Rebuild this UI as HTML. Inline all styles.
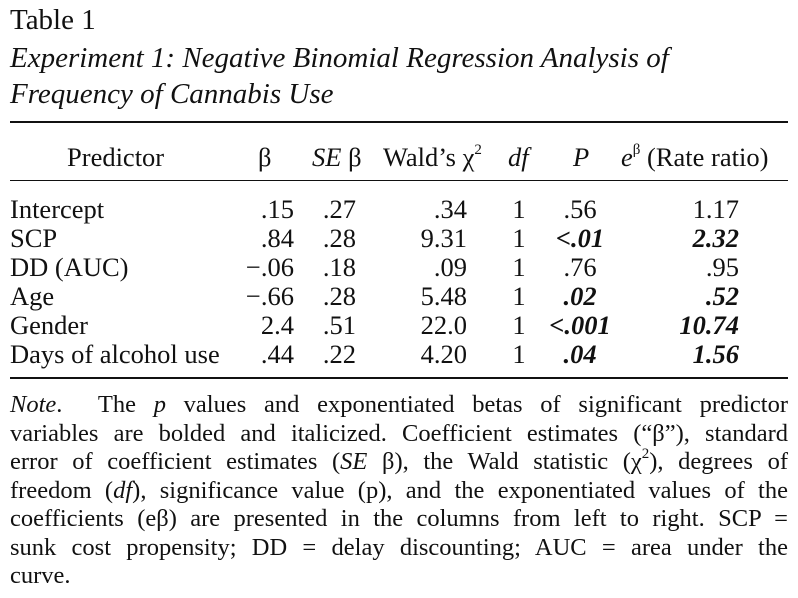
<!DOCTYPE html>
<html><head><meta charset="utf-8"><style>
body{margin:0;width:798px;height:598px;background:#fff;position:relative;overflow:hidden;font-family:"Liberation Serif",serif;color:#111}
.a{position:absolute;white-space:nowrap;line-height:1}
.t{font-size:29px;left:10px}
.c{font-size:26.5px}
.bi{font-weight:bold;font-style:italic}
.n{position:absolute;left:10px;width:778px;font-size:24.5px;line-height:1;text-align:justify;text-align-last:justify;white-space:nowrap}
sup{line-height:0;font-size:15px;position:relative;top:-2px}
.rule{position:absolute;left:10px;width:778px;background:#111}
</style></head><body>
<div class="a t" style="top:6px">Table 1</div>
<div class="a t" style="top:44px;font-style:italic">Experiment 1: Negative Binomial Regression Analysis of</div>
<div class="a t" style="top:80px;font-style:italic">Frequency of Cannabis Use</div>
<div class="rule" style="top:121px;height:2px"></div>
<div class="rule" style="top:180px;height:1px"></div>
<div class="rule" style="top:377px;height:1.5px"></div>
<div id="tbl"></div>
<div>
<div class="n" style="top:393px"><i>Note</i>. &nbsp;The <i>p</i> values and exponentiated betas of significant predictor</div>
<div class="n" style="top:422px">variables are bolded and italicized. Coefficient estimates (“β”), standard</div>
<div class="n" style="top:450px">error of coefficient estimates (<i>SE</i> β), the Wald statistic (χ<sup>2</sup>), degrees of</div>
<div class="n" style="top:479px">freedom (<i>df</i>), significance value (p), and the exponentiated values of the</div>
<div class="n" style="top:507px">coefficients (eβ) are presented in the columns from left to right. SCP =</div>
<div class="n" style="top:536px">sunk cost propensity; DD = delay discounting; AUC = area under the</div>
<div class="a" style="top:564px;left:10px;font-size:24.5px">curve.</div>
</div>
<script>
const predictors=["Intercept","SCP","DD (AUC)","Age","Gender","Days of alcohol use"];
const betas=[".15",".84","\u2212.06","\u2212.66","2.4",".44"];
const ses=[".27",".28",".18",".28",".51",".22"];
const walds=[".34","9.31",".09","5.48","22.0","4.20"];
const dfs=["1","1","1","1","1","1"];
const ps=[".56","<.01",".76",".02","<.001",".04"];
const rates=["1.17","2.32",".95",".52","10.74","1.56"];
const sig=[false,true,false,true,true,true];
const root=document.getElementById('tbl');
function cell(html,x,y,align,cls,name){
  const d=document.createElement('div');
  d.className='a c '+(cls||'');
  d.innerHTML=html;
  d.style.top=y+'px';
  if(align==='r'){d.style.right=(798-x)+'px';}
  else if(align==='m'){d.style.left=(x-50)+'px';d.style.width='100px';d.style.textAlign='center';}
  else d.style.left=x+'px';
  
  
  root.appendChild(d);
}
const hy=144;
cell('Predictor',67,hy,'l','','header-predictor');
cell('β',258,hy,'l','','header-beta');
cell('<i>SE</i> β',312,hy,'l','','header-se');
cell('Wald’s χ<sup>2</sup>',383,hy,'l','','header-wald');
cell('<i>df</i>',508,hy,'l','','header-df');
cell('<i>P</i>',573,hy,'l','','header-p');
cell('<i>e</i><sup>β</sup> (Rate ratio)',621,hy,'l','','header-rate');
for(let i=0;i<predictors.length;i++){
  const y=196+i*29;
  cell(predictors[i],10,y,'l','','predictor-'+i);
  cell(betas[i],294,y,'r','','beta-'+i);
  cell(ses[i],356,y,'r','','se-'+i);
  cell(walds[i],467,y,'r','','wald-'+i);
  cell(dfs[i],519,y,'m','','df-'+i);
  cell(ps[i].replace('<','&lt;'),580,y,'m',sig[i]?'bi':'','p-'+i);
  cell(rates[i],739,y,'r',sig[i]?'bi':'','rate-'+i);
}
</script>
</body></html>
